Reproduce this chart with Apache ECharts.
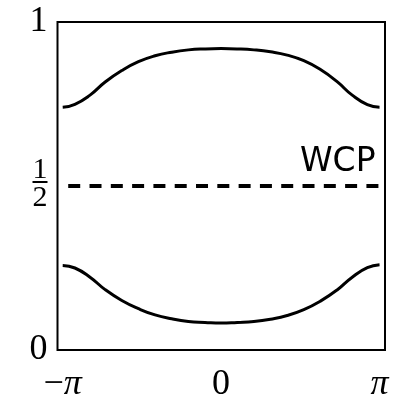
<!DOCTYPE html>
<html>
<head>
<meta charset="utf-8">
<script src="https://cdn.jsdelivr.net/npm/echarts@6/dist/echarts.min.js"></script>
<style>
  html, body { margin: 0; padding: 0; background: #fff; }
  #chart { width: 395px; height: 403px; }
</style>
</head>
<body>
<div id="chart"></div>
<script>
const PI = Math.PI;

// Momentum grid (k from -pi to pi)
const kValues = [-PI, -2.9, -2.6, -2.3, -1.97, -1.64, -1.31, -0.98, -0.65, -0.32, 0,
                 0.32, 0.65, 0.98, 1.31, 1.64, 1.97, 2.3, 2.6, 2.9, PI];

// Upper and lower Wannier centre branches
const upperBranch = [0.740, 0.749, 0.777, 0.817, 0.852, 0.879, 0.897, 0.908, 0.915, 0.918, 0.919,
                     0.918, 0.915, 0.909, 0.899, 0.882, 0.855, 0.818, 0.777, 0.748, 0.740];
const lowerBranch = [0.258, 0.250, 0.222, 0.184, 0.151, 0.126, 0.107, 0.095, 0.087, 0.084, 0.082,
                     0.084, 0.087, 0.094, 0.105, 0.123, 0.149, 0.183, 0.222, 0.251, 0.260];

// Reference level at one half
const wcpK = [-PI, PI];
const wcpLevel = [0.5, 0.5];

// Tick positions and their labels
const xTickValues = [-PI, 0, PI];
const xTickLabels = ['−{i|π}', '0', '{i|π}'];
const yTickValues = [0, 0.5, 1];
const yTickLabels = ['0', '{n|1}\n{bar|}\n{d|2}', '1'];

const pairs = (xs, ys) => xs.map((x, i) => [x, ys[i]]);
const serif = 'Liberation Serif';

const chart = echarts.init(document.getElementById('chart'), null, { renderer: 'canvas' });

const branchStyle = {
  type: 'line',
  smooth: 0.5,
  showSymbol: false,
  lineStyle: { color: '#000', width: 3 }
};

chart.setOption({
  animation: false,
  backgroundColor: '#fff',
  grid: {
    left: 57.5, right: 10, top: 22, bottom: 51,
    show: true, borderColor: '#000', borderWidth: 2, backgroundColor: 'transparent'
  },
  xAxis: {
    type: 'value',
    min: -3.245, max: 3.25,
    axisLine: { show: false },
    axisTick: { show: false },
    splitLine: { show: false },
    axisLabel: {
      customValues: xTickValues,
      margin: 17,
      fontFamily: serif,
      fontSize: 36,
      color: '#000',
      formatter: (v) => xTickLabels[xTickValues.findIndex(t => Math.abs(t - v) < 1e-6)],
      rich: {
        i: { fontFamily: serif, fontStyle: 'italic', fontSize: 36, color: '#000' }
      }
    }
  },
  yAxis: {
    type: 'value',
    min: 0, max: 1,
    axisLine: { show: false },
    axisTick: { show: false },
    splitLine: { show: false },
    axisLabel: {
      customValues: yTickValues,
      margin: 10,
      fontFamily: serif,
      fontSize: 36,
      color: '#000',
      formatter: (v) => yTickLabels[yTickValues.findIndex(t => Math.abs(t - v) < 1e-6)],
      rich: {
        n: { fontFamily: serif, fontSize: 30, lineHeight: 22, color: '#000', align: 'center' },
        bar: { width: 15, height: 2, backgroundColor: '#000', align: 'center' },
        d: { fontFamily: serif, fontSize: 30, lineHeight: 30, color: '#000', align: 'center' }
      }
    }
  },
  series: [
    Object.assign({ data: pairs(kValues, upperBranch) }, branchStyle),
    Object.assign({ data: pairs(kValues, lowerBranch) }, branchStyle),
    {
      type: 'line',
      data: pairs(wcpK, wcpLevel),
      showSymbol: false,
      lineStyle: { color: '#000', width: 4, type: [12, 9.3], dashOffset: 15.8 },
      endLabel: {
        show: true,
        formatter: 'WCP',
        fontFamily: 'DejaVu Sans',
        fontSize: 33,
        color: '#000',
        align: 'right',
        verticalAlign: 'bottom',
        offset: [-12, -7]
      }
    }
  ]
});
</script>
</body>
</html>
